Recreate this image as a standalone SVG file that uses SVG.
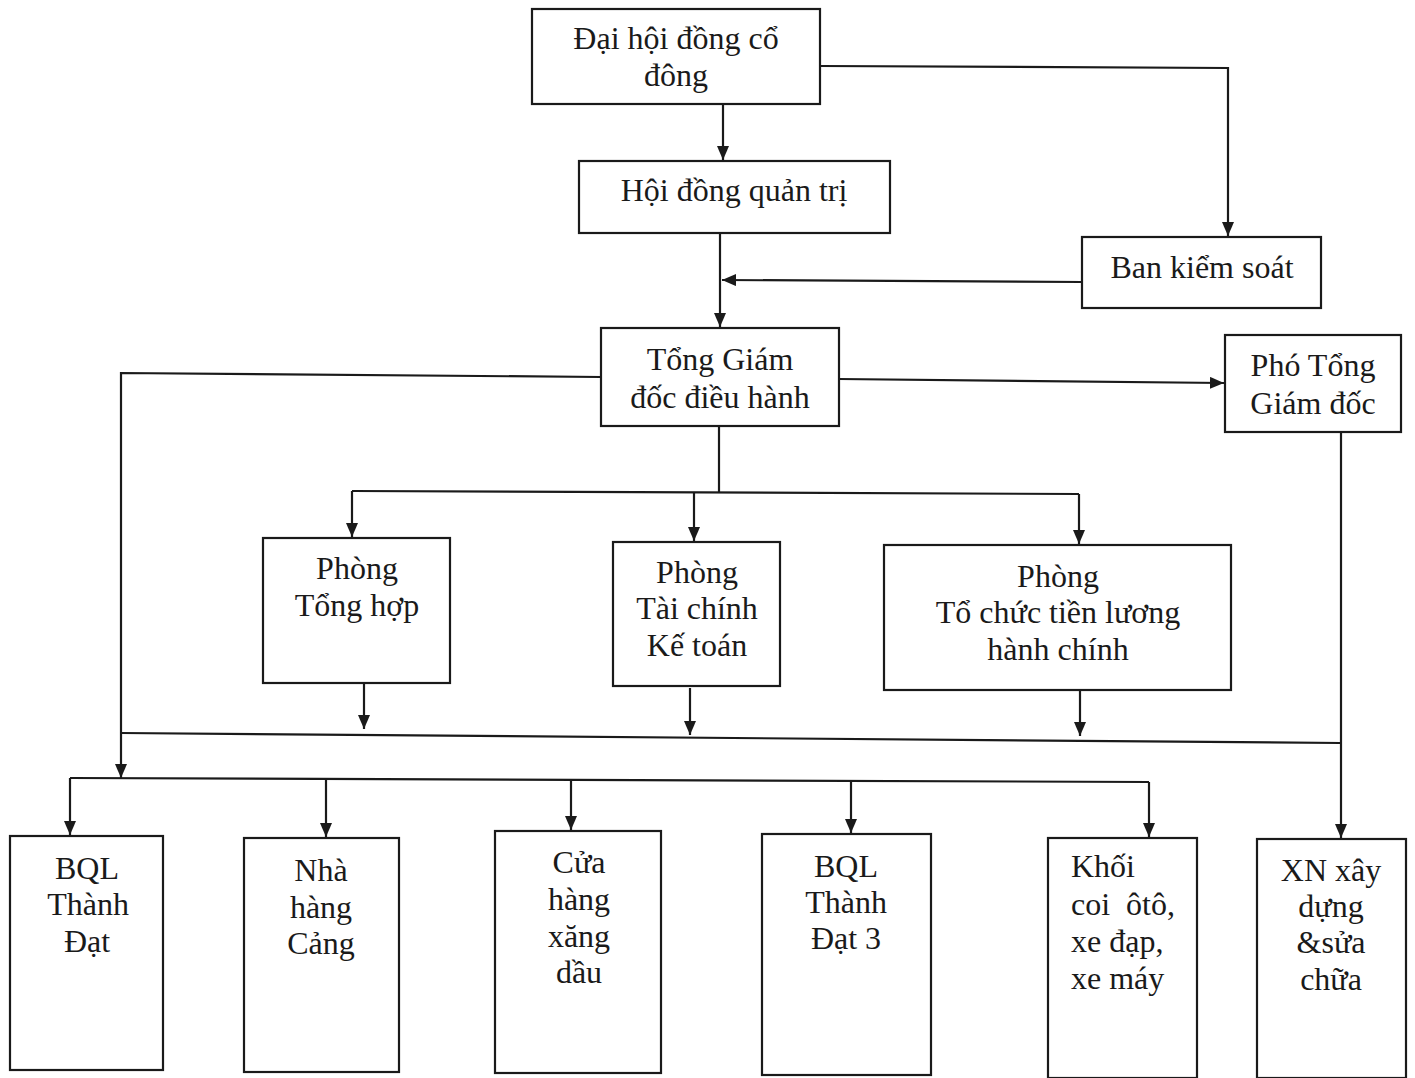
<svg xmlns="http://www.w3.org/2000/svg" width="1415" height="1078" viewBox="0 0 1415 1078">
<style>
.box{fill:#fff;stroke:#1a1a1a;stroke-width:2.2}
.t{font-family:"Liberation Serif","Times New Roman",serif;font-size:32px;fill:#1a1a1a;text-anchor:middle}
.tl{text-anchor:start}
.c{fill:none;stroke:#1a1a1a;stroke-width:2.2}
</style>
<defs>
<marker id="ah" viewBox="0 0 14 12" refX="14" refY="6" markerWidth="14" markerHeight="12" markerUnits="userSpaceOnUse" orient="auto">
<path d="M0,0 L14,6 L0,12 Z" fill="#1a1a1a"/>
</marker>
</defs>
<rect width="1415" height="1078" fill="#fff"/>
<g id="connectors">
<path class="c" d="M723,104 V160" marker-end="url(#ah)"/>
<path class="c" d="M820,66 L1228,68 V236" marker-end="url(#ah)"/>
<path class="c" d="M720,233 V327" marker-end="url(#ah)"/>
<path class="c" d="M1082,282 L722,280" marker-end="url(#ah)"/>
<path class="c" d="M839,379 L1224,383" marker-end="url(#ah)"/>
<path class="c" d="M601,377 L121,373 V778" marker-end="url(#ah)"/>
<path class="c" d="M719,426 V492"/>
<path class="c" d="M352,491 L1079,494"/>
<path class="c" d="M352,491 V537" marker-end="url(#ah)"/>
<path class="c" d="M694,492 V541" marker-end="url(#ah)"/>
<path class="c" d="M1079,494 V544" marker-end="url(#ah)"/>
<path class="c" d="M364,683 V729" marker-end="url(#ah)"/>
<path class="c" d="M690,688 V735" marker-end="url(#ah)"/>
<path class="c" d="M1080,690 V736" marker-end="url(#ah)"/>
<path class="c" d="M121,733 L1341,743"/>
<path class="c" d="M1341,432 V838" marker-end="url(#ah)"/>
<path class="c" d="M70,778 L1149,782"/>
<path class="c" d="M70,778 V835" marker-end="url(#ah)"/>
<path class="c" d="M326,779 V837" marker-end="url(#ah)"/>
<path class="c" d="M571,780 V830" marker-end="url(#ah)"/>
<path class="c" d="M851,781 V833" marker-end="url(#ah)"/>
<path class="c" d="M1149,782 V837" marker-end="url(#ah)"/>
</g>
<g id="n-dhdcd"><rect class="box" x="532" y="9" width="288" height="95"/><text class="t" x="676" y="49">Đại hội đồng cổ</text><text class="t" x="676" y="86">đông</text></g>
<g id="n-hdqt"><rect class="box" x="579" y="161" width="311" height="72"/><text class="t" x="734" y="201">Hội đồng quản trị</text></g>
<g id="n-bks"><rect class="box" x="1082" y="237" width="239" height="71"/><text class="t" x="1202" y="278">Ban kiểm soát</text></g>
<g id="n-tgd"><rect class="box" x="601" y="328" width="238" height="98"/><text class="t" x="720" y="370">Tổng Giám</text><text class="t" x="720" y="408">đốc điều hành</text></g>
<g id="n-ptgd"><rect class="box" x="1225" y="335" width="176" height="97"/><text class="t" x="1313" y="376">Phó Tổng</text><text class="t" x="1313" y="414">Giám đốc</text></g>
<g id="n-pth"><rect class="box" x="263" y="538" width="187" height="145"/><text class="t" x="357" y="579">Phòng</text><text class="t" x="357" y="616">Tổng hợp</text></g>
<g id="n-ptckt"><rect class="box" x="613" y="542" width="167" height="144"/><text class="t" x="697" y="583">Phòng</text><text class="t" x="697" y="619">Tài chính</text><text class="t" x="697" y="656">Kế toán</text></g>
<g id="n-ptc"><rect class="box" x="884" y="545" width="347" height="145"/><text class="t" x="1058" y="587">Phòng</text><text class="t" x="1058" y="623">Tổ chức tiền lương</text><text class="t" x="1058" y="660">hành chính</text></g>
<g id="n-bql1"><rect class="box" x="10" y="836" width="153" height="234"/><text class="t" x="87" y="879">BQL</text><text class="t" x="88" y="915">Thành</text><text class="t" x="87" y="952">Đạt</text></g>
<g id="n-nhc"><rect class="box" x="244" y="838" width="155" height="234"/><text class="t" x="321" y="881">Nhà</text><text class="t" x="321" y="918">hàng</text><text class="t" x="321" y="954">Cảng</text></g>
<g id="n-chxd"><rect class="box" x="495" y="831" width="166" height="242"/><text class="t" x="579" y="873">Cửa</text><text class="t" x="579" y="910">hàng</text><text class="t" x="579" y="947">xăng</text><text class="t" x="579" y="983">dầu</text></g>
<g id="n-bql3"><rect class="box" x="762" y="834" width="169" height="241"/><text class="t" x="846" y="877">BQL</text><text class="t" x="846" y="913">Thành</text><text class="t" x="846" y="949">Đạt 3</text></g>
<g id="n-khoi"><rect class="box" x="1048" y="838" width="149" height="240"/><text class="t tl" x="1071" y="877">Khối</text><text class="t tl" x="1071" y="915" xml:space="preserve">coi  ôtô,</text><text class="t tl" x="1071" y="952">xe đạp,</text><text class="t tl" x="1071" y="989">xe máy</text></g>
<g id="n-xn"><rect class="box" x="1257" y="839" width="149" height="239"/><text class="t" x="1331" y="881">XN xây</text><text class="t" x="1331" y="917">dựng</text><text class="t" x="1331" y="953">&amp;sửa</text><text class="t" x="1331" y="990">chữa</text></g>
</svg>
